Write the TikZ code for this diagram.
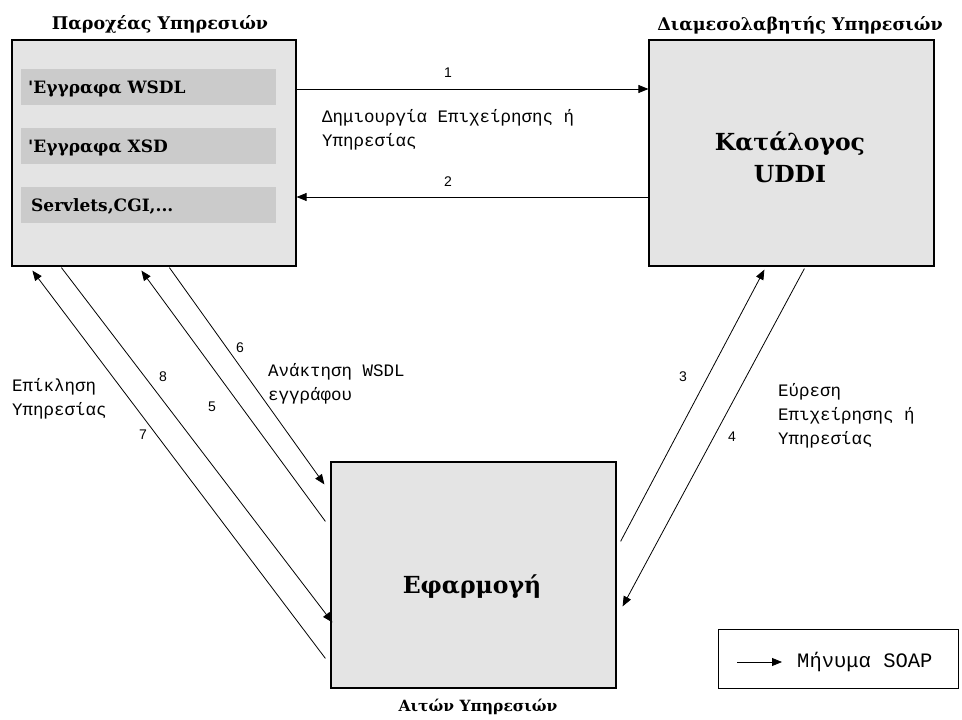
\documentclass[tikz,border=0pt]{standalone}
\usepackage{fontspec}
\setmainfont{DejaVu Serif}
\newfontfamily\labelfont{Liberation Mono}
\newfontfamily\numfont{Liberation Sans}
\newfontfamily\boldfont{DejaVu Serif}[BoldFont={DejaVu Serif Bold}]
\usetikzlibrary{arrows.meta}
\definecolor{boxfill}{HTML}{E4E4E4}
\definecolor{barfill}{HTML}{CBCBCB}
\begin{document}
\begin{tikzpicture}[x=1pt,y=-1pt,
  actor/.style={draw=black,line width=1.2pt,fill=boxfill,rectangle,inner sep=0pt},
  bar/.style={fill=barfill,rectangle,inner sep=0pt,minimum width=255pt,minimum height=36pt},
  msg/.style={line width=0.8pt,-{Triangle[length=10pt,width=8pt]}},
  title/.style={font=\boldfont\bfseries\fontsize{17.5}{20}\selectfont,inner sep=0pt},
  bigtitle/.style={font=\boldfont\bfseries\fontsize{23.5}{32}\selectfont,inner sep=0pt,align=center},
  bartext/.style={font=\boldfont\bfseries\fontsize{17}{20}\selectfont,inner sep=0pt,anchor=west},
  lbl/.style={font=\labelfont\fontsize{17.5}{24}\selectfont,inner sep=0pt,anchor=west,align=left},
  num/.style={font=\numfont\fontsize{14}{16}\selectfont,inner sep=0pt}]
\useasboundingbox[fill=white] (0,0) rectangle (962,720);

% the three actors
\node[actor,minimum width=284pt,minimum height=226pt] (prov) at (154,153) {};
\node[actor,minimum width=285pt,minimum height=226pt] (uddi) at (791.5,153) {};
\node[actor,minimum width=285pt,minimum height=226pt] (app) at (473.5,575) {};

% documents held by the provider
\node[bar] (wsdl) at (148.5,87) {};
\node[bar] (xsd) at (148.5,146) {};
\node[bar] (serv) at (148.5,204.5) {};
\node[bartext] (wsdlt) at (28,89) {'Εγγραφα WSDL};
\node[bartext] (xsdt) at (28,148) {'Εγγραφα XSD};
\node[bartext] (servt) at (31,206) {Servlets,CGI,...};

% titles
\node[title] (tprov) at (160,24) {Παροχέας Υπηρεσιών};
\node[title] (tuddi) at (800,25) {Διαμεσολαβητής Υπηρεσιών};
\node[title,font=\boldfont\bfseries\fontsize{15.5}{18}\selectfont] (tapp) at (478,707) {Αιτών Υπηρεσιών};
\node[bigtitle] (cat) at (790,157) {Κατάλογος\\UDDI};
\node[bigtitle] (appt) at (472,587) {Εφαρμογή};

% provider <-> registry
\draw[msg] ([yshift=64pt]prov.east) -- ([yshift=64pt]uddi.west);
\draw[msg] ([yshift=-44pt]uddi.west) -- ([yshift=-44pt]prov.east);
\node[num] (n1) at (448,73) {1};
\node[num] (n2) at (448,182) {2};
\node[lbl] (create) at (322,130) {Δημιουργία Επιχείρησης ή\\Υπηρεσίας};

% client <-> provider
\draw[msg] ([xshift=-5pt,yshift=-197pt]app.north west) -- ([xshift=21pt,yshift=-4pt]prov.south west);
\draw[msg] ([xshift=50pt,yshift=-1pt]prov.south west) -- ([xshift=2pt,yshift=-161pt]app.north west);
\draw[msg] ([xshift=-5pt,yshift=-60pt]app.north west) -- ([xshift=130pt,yshift=-4pt]prov.south west);
\draw[msg] ([xshift=158pt,yshift=-1pt]prov.south west) -- ([xshift=-6pt,yshift=-23pt]app.north west);
\node[num] (n6) at (240,348) {6};
\node[num] (n8) at (163,377) {8};
\node[num] (n5) at (212,407) {5};
\node[num] (n7) at (143,435) {7};
\node[lbl] (fetch) at (268,384) {Ανάκτηση WSDL\\εγγράφου};
\node[lbl] (invoke) at (12,399) {Επίκληση\\Υπηρεσίας};

% client <-> registry
\draw[msg] ([xshift=4pt,yshift=-80pt]app.north east) -- ([xshift=116pt,yshift=-3pt]uddi.south west);
\draw[msg] ([xshift=156pt,yshift=-2pt]uddi.south west) -- ([xshift=6pt,yshift=-145pt]app.north east);
\node[num] (n3) at (683,377) {3};
\node[num] (n4) at (732,437) {4};
\node[lbl] (find) at (778,416) {Εύρεση\\Επιχείρησης ή\\Υπηρεσίας};

% legend
\node[draw=black,line width=1pt,rectangle,inner sep=0pt,minimum width=240pt,minimum height=59pt] (legend) at (838,658.5) {};
\coordinate (la) at (737,662);
\coordinate (lb) at (782,662);
\draw[msg] (la) -- (lb);
\node[lbl,font=\labelfont\fontsize{20.5}{22}\selectfont] (legt) at (797,662) {Μήνυμα SOAP};
\end{tikzpicture}
\end{document}
